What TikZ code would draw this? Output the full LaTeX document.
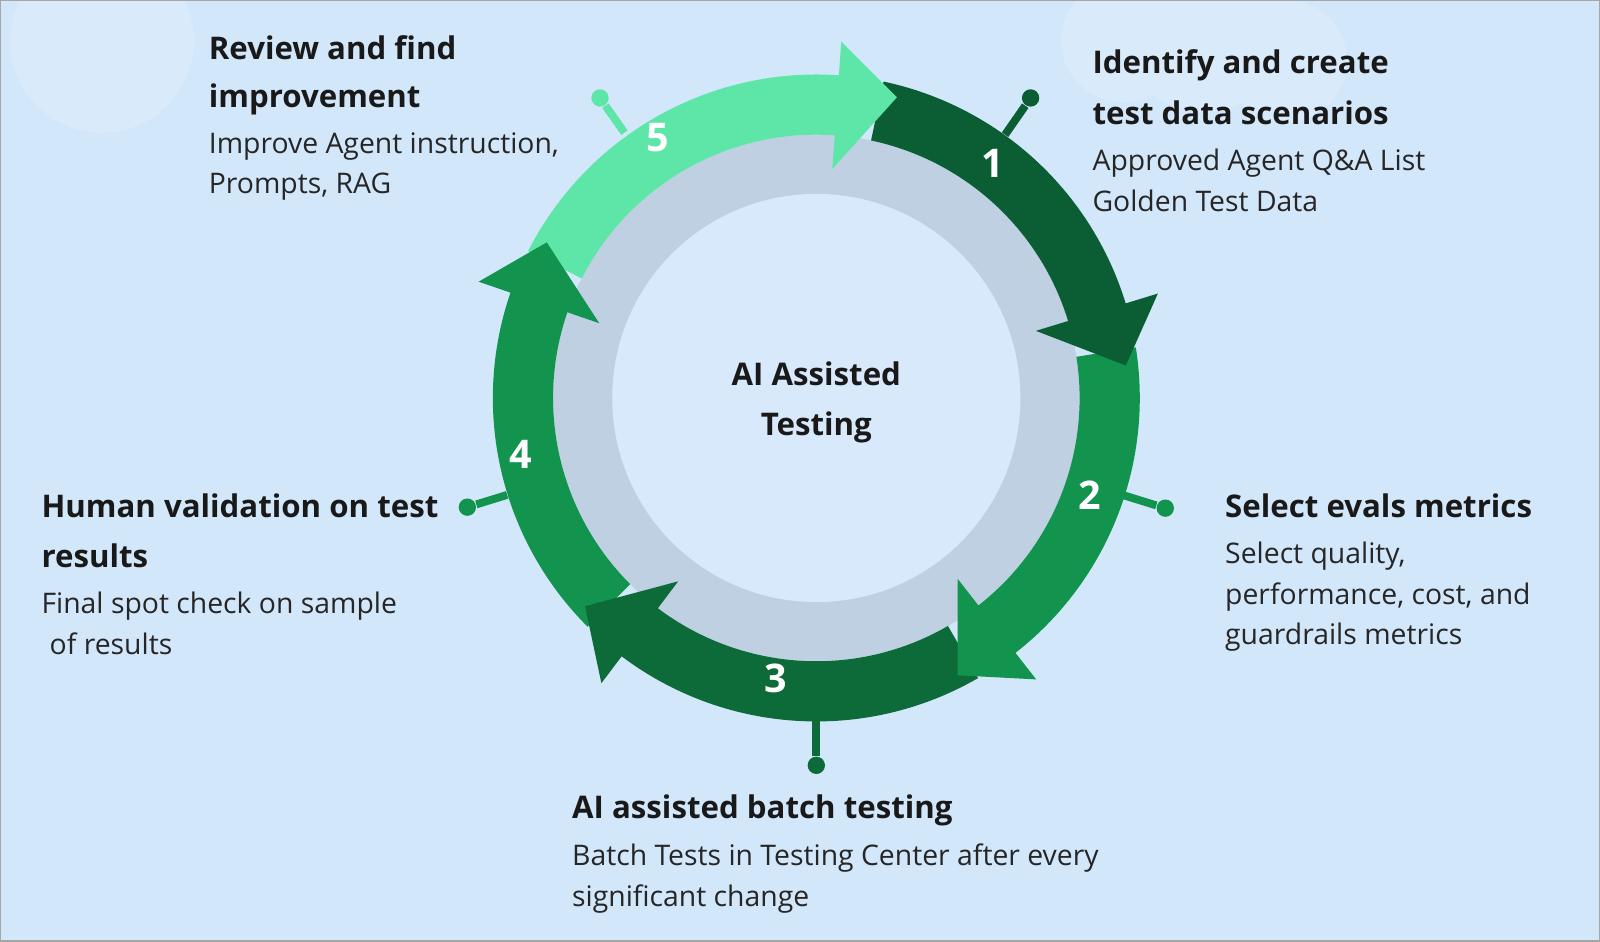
\documentclass[tikz,border=0pt]{standalone}
\usepackage{fontspec}
\setmainfont{Open Sans}
\begin{document}
\definecolor{bg}{HTML}{D3E7FB}
\definecolor{ringgray}{HTML}{BFD0E2}
\definecolor{gA}{HTML}{0B5E33}
\definecolor{gB}{HTML}{12944F}
\definecolor{gC}{HTML}{0D6B3A}
\definecolor{gD}{HTML}{5EE6A8}
\begin{tikzpicture}[x=0.01cm,y=-0.01cm,
  hd/.style={anchor=base west,inner sep=0,font=\fontsize{8.7}{11}\selectfont\bfseries,text=black!90},
  bd/.style={anchor=base west,inner sep=0,font=\fontsize{7.9}{10}\selectfont,text=black!85},
  num/.style={font=\fontsize{11}{12}\selectfont\bfseries,text=white,inner sep=0},
  pin/.style={line width=2.2pt},
  dot/.style={circle,fill,inner sep=0,minimum size=0.17cm}]
\useasboundingbox (0,0) rectangle (1568,923);
\fill[bg] (0,0) rectangle (1568,923);
\fill[white,opacity=0.15] (1100,40) circle (60) (1180,30) circle (80) (1260,60) circle (60) (100,40) circle (90);
\draw[gray!70,line width=0.8pt] (0,0) rectangle (1568,923);
\begin{scope}[shift={(800,390)},yscale=-1]
  \fill[ringgray] (0,0) circle (258);
  \fill[bg!90!white] (0,0) circle (200);
  \newcommand\seg[3]{\fill[#3] (#1:317) arc[start angle=#1,end angle=#2,radius=317] -- (#2:258) arc[start angle=#2,end angle=#1,radius=258] -- cycle;}
  \newcommand\hed[3]{\fill[#3] (#1:350) -- (#2:305) -- (#1:225) -- cycle;}
  \seg{78}{12}{gA}
  \seg{9}{-57}{gB}
  \seg{-60}{-132}{gC}
  \seg{-135}{-204}{gB}
  \seg{-207}{-279}{gD}
  \hed{17}{6}{gA}
  \hed{-52}{-63}{gB}
  \hed{-127}{-138}{gC}
  \hed{-199}{-210}{gB}
  \hed{-274}{-285}{gD}
\end{scope}
\node[num] (n1) at (973,160) {1};
\node[num] (n2) at (1068,485) {2};
\node[num] (n3) at (760,665) {3};
\node[num] (n4) at (510,445) {4};
\node[num] (n5) at (645,135) {5};
% pins
\node[dot,gA] (d1) at (1010,96) {};
\coordinate (p1) at (985,132);
\draw[pin,gA] (p1) -- (d1);
\node[dot,gB] (d2) at (1142,498) {};
\coordinate (p2) at (1100,485);
\draw[pin,gB] (p2) -- (d2);
\node[dot,gC] (d3) at (800,750) {};
\coordinate (p3) at (800,702);
\draw[pin,gC] (p3) -- (d3);
\node[dot,gB] (d4) at (458,497) {};
\coordinate (p4) at (497,485);
\draw[pin,gB] (p4) -- (d4);
\node[dot,gD] (d5) at (588,96) {};
\coordinate (p5) at (612,130);
\draw[pin,gD] (p5) -- (d5);
% center
\node[hd,anchor=base] (c1) at (800,378) {AI Assisted};
\node[hd,anchor=base] (c2) at (800,427) {Testing};
% block 1
\node[hd] (h1a) at (1070,72) {Identify and create};
\node[hd] (h1b) at (1070,122) {test data scenarios};
\node[bd] (b1a) at (1070,167) {Approved Agent Q\&A List};
\node[bd] (b1b) at (1070,207) {Golden Test Data};
% block 2
\node[hd] (h2a) at (1200,507) {Select evals metrics};
\node[bd] (b2a) at (1200,552) {Select quality,};
\node[bd] (b2b) at (1200,592) {performance, cost, and};
\node[bd] (b2c) at (1200,632) {guardrails metrics};
% block 3
\node[hd] (h3a) at (560,802) {AI assisted batch testing};
\node[bd] (b3a) at (560,848) {Batch Tests in Testing Center after every};
\node[bd] (b3b) at (560,888) {significant change};
% block 4
\node[hd] (h4a) at (40,507) {Human validation on test};
\node[hd] (h4b) at (40,556) {results};
\node[bd] (b4a) at (40,601) {Final spot check on sample};
\node[bd] (b4b) at (48,641) {of results};
% block 5
\node[hd] (h5a) at (204,58) {Review and find};
\node[hd] (h5b) at (204,105) {improvement};
\node[bd] (b5a) at (204,150) {Improve Agent instruction,};
\node[bd] (b5b) at (204,190) {Prompts, RAG};
\end{tikzpicture}
\end{document}
